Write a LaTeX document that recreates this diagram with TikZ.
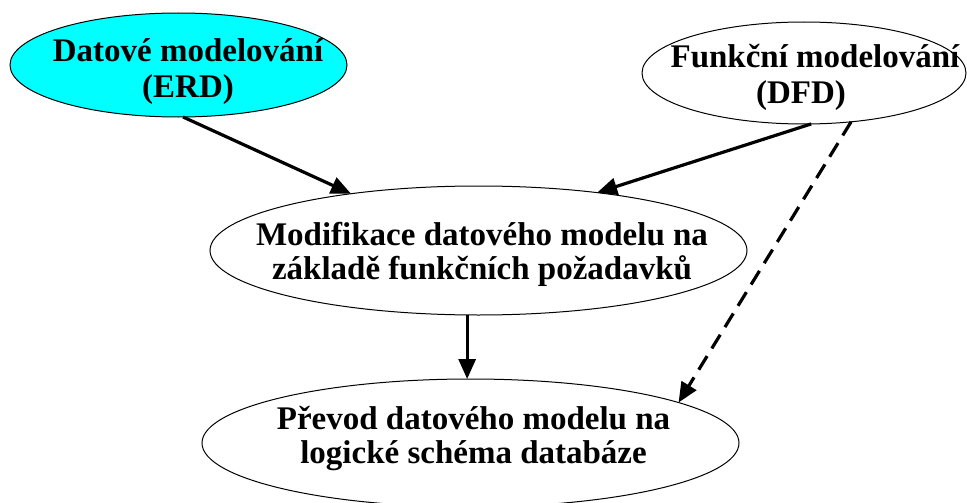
\documentclass[tikz,border=0pt]{standalone}
\usepackage{fontspec}
\setmainfont{Liberation Serif}
\usetikzlibrary{shapes.geometric,arrows.meta}
\definecolor{erdcyan}{HTML}{00FFFF}
\tikzset{
  ell/.style={ellipse, draw=black, line width=1pt, inner sep=0pt, outer sep=0pt},
  txt/.style={anchor=base, inner sep=0pt, font=\fontsize{33}{34}\selectfont\bfseries},
  arr/.style={line width=3.2pt, -{Triangle[length=20pt,width=17pt]}},
  darr/.style={arr, dash pattern=on 16pt off 9pt}
}
\begin{document}
\begin{tikzpicture}[x=1pt,y=-1pt]
\useasboundingbox (0,0) rectangle (967,503);
% ellipses
\node[ell, fill=erdcyan, minimum width=337pt, minimum height=104pt] (erd) at (178.5,65) {};
\node[ell, fill=white, minimum width=324pt, minimum height=102pt] (dfd) at (804,73) {};
\node[ell, fill=white, minimum width=537pt, minimum height=129pt] (mod) at (478.5,250.5) {};
\node[ell, fill=white, minimum width=537pt, minimum height=128pt] (prev) at (470.5,443) {};
% texts
\node[txt] (erd1) at (188,62) {Datové modelování};
\node[txt] (erd2) at (188,97) {(ERD)};
\node[txt] (dfd1) at (815,68) {Funkční modelování};
\node[txt] (dfd2) at (801,103) {(DFD)};
\node[txt] (mod1) at (482,245) {Modifikace datového modelu na};
\node[txt] (mod2) at (482,279) {základě funkčních požadavků};
\node[txt] (prev1) at (473.5,429) {Převod datového modelu na};
\node[txt] (prev2) at (473.5,463) {logické schéma databáze};
% connectors
\draw[arr] (erd.-85) -- (mod.156.3);
\draw[arr] (dfd.-82.3) -- (mod.26.1);
\draw[arr] (mod.-100) -- (mod.-100 |- prev.north);
\draw[darr] (dfd.-46.2) -- (prev.11);
\end{tikzpicture}
\end{document}
